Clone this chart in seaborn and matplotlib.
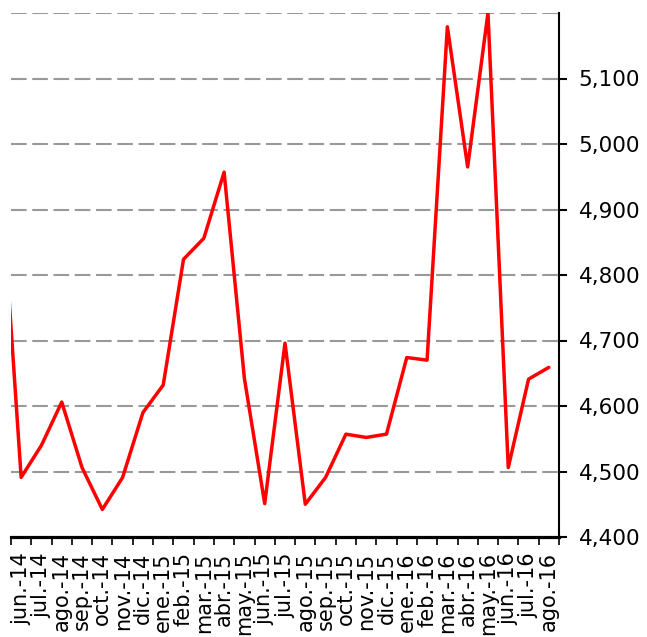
import pandas as pd
import matplotlib.pyplot as plt
import matplotlib.ticker as mticker
import seaborn as sns

# month before the first label: only its segment into the frame is visible
prev_month = "may.-14"
prev_value = 4950

months = ["jun.-14", "jul.-14", "ago.-14", "sep.-14", "oct.-14", "nov.-14", "dic.-14",
          "ene.-15", "feb.-15", "mar.-15", "abr.-15", "may.-15", "jun.-15", "jul.-15",
          "ago.-15", "sep.-15", "oct.-15", "nov.-15", "dic.-15", "ene.-16", "feb.-16",
          "mar.-16", "abr.-16", "may.-16", "jun.-16", "jul.-16", "ago.-16"]
values = [4491, 4540, 4606, 4506, 4442, 4491, 4590,
          4632, 4824, 4856, 4957, 4642, 4451, 4696,
          4450, 4491, 4557, 4552, 4557, 4674, 4670,
          5179, 4965, 5200, 4506, 4641, 4659]

y_ticks = [4400, 4500, 4600, 4700, 4800, 4900, 5000, 5100]
y_top = 5200


def setup_plot_style():
    sns.set_theme(style="white")
    plt.rcParams['font.family'] = ['DejaVu Sans']
    plt.rcParams['axes.unicode_minus'] = False


setup_plot_style()

df = pd.DataFrame({
    "idx": list(range(-1, len(months))),
    "month": [prev_month] + months,
    "value": [prev_value] + values,
})

fig = plt.figure(figsize=(6.47, 6.37), dpi=100)
ax = fig.add_axes([11 / 647, 1 - 537 / 637, 548 / 647, 524 / 637])

sns.lineplot(data=df, x="idx", y="value", color="#ff0000", linewidth=2.5, ax=ax)

ax.set_xlim(-0.5, len(months) - 0.5)
ax.set_ylim(y_ticks[0], y_top)

# dashed grey gridlines
grid_style = dict(color="#999999", linewidth=1.5, linestyle=(0, (7.5, 2.7)), zorder=0)
for v in y_ticks[1:] + [y_top]:
    ax.axhline(v, **grid_style)

# y axis on the right
ax.yaxis.tick_right()
ax.set_yticks(y_ticks)
ax.yaxis.set_major_formatter(mticker.FuncFormatter(lambda v, p: f"{v:,.0f}"))
ax.tick_params(axis="y", which="major", direction="out", length=6, width=1.5,
               color="black", labelcolor="black", labelsize=15.5, pad=8,
               right=True, left=False)

# category axis: ticks between months, labels at month centres
ax.set_xticks([i - 0.5 for i in range(len(months) + 1)])
ax.set_xticklabels([])
ax.set_xticks(list(range(len(months))), minor=True)
ax.set_xticklabels(months, minor=True, rotation=90)
ax.tick_params(axis="x", which="major", direction="out", length=6, width=1.2,
               color="black", bottom=True)
ax.tick_params(axis="x", which="minor", length=0, labelsize=15, pad=11,
               labelcolor="black")

ax.set_xlabel("")
ax.set_ylabel("")

for side in ["top", "left"]:
    ax.spines[side].set_visible(False)
ax.spines["bottom"].set_color("black")
ax.spines["bottom"].set_linewidth(2.3)
ax.spines["right"].set_color("black")
ax.spines["right"].set_linewidth(1.5)

fig.savefig("out.png", dpi=100)
